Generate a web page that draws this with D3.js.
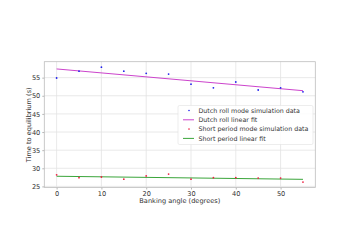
<!DOCTYPE html>
<html>
<head>
<meta charset="utf-8">
<script src="https://cdn.jsdelivr.net/npm/d3@7"></script>
<style>
  body { margin: 0; background: #fff; }
  text { font-family: "DejaVu Sans", sans-serif; fill: #333; }
</style>
</head>
<body>
<div id="chart"></div>
<script>
// banking angles (degrees)
var angles = [0, 5, 10, 15, 20, 25, 30, 35, 40, 45, 50, 55];
// time to equilibrium (s)
var dutchRoll = [54.9, 56.8, 57.9, 56.8, 56.2, 56.0, 53.2, 52.2, 53.8, 51.6, 52.2, 51.1];
var shortPeriod = [28.2, 27.4, 27.6, 27.0, 27.9, 28.4, 27.0, 27.4, 27.4, 27.3, 27.3, 26.2];
// linear fits, end points
var fitAngles = [0, 55];
var dutchFit = [57.4, 51.4];
var shortFit = [27.8, 26.95];
var xTicks = [0, 10, 20, 30, 40, 50];
var yTicks = [25, 30, 35, 40, 45, 50, 55];

var width = 351, height = 248;
var margin = { top: 61.7, right: 35.7, bottom: 60.5, left: 44.3 };

var svg = d3.select("#chart").append("svg")
  .attr("width", width)
  .attr("height", height);

var x = d3.scaleLinear().domain([-2.75, 57.75]).range([margin.left, width - margin.right]);
var y = d3.scaleLinear().domain([24.7, 59.4]).range([height - margin.bottom, margin.top]);

// grid
svg.append("g").selectAll("line").data(xTicks).enter().append("line")
  .attr("x1", function (d) { return x(d); }).attr("x2", function (d) { return x(d); })
  .attr("y1", margin.top).attr("y2", height - margin.bottom)
  .attr("stroke", "#e3e3e3").attr("stroke-width", 0.8);
svg.append("g").selectAll("line").data(yTicks).enter().append("line")
  .attr("y1", function (d) { return y(d); }).attr("y2", function (d) { return y(d); })
  .attr("x1", margin.left).attr("x2", width - margin.right)
  .attr("stroke", "#e3e3e3").attr("stroke-width", 0.8);

// axes
var xAxis = svg.append("g")
  .attr("transform", "translate(0," + (height - margin.bottom) + ")")
  .call(d3.axisBottom(x).tickValues(xTicks).tickSize(2).tickPadding(2));
var yAxis = svg.append("g")
  .attr("transform", "translate(" + margin.left + ",0)")
  .call(d3.axisLeft(y).tickValues(yTicks).tickSize(2).tickPadding(2));
[xAxis, yAxis].forEach(function (a) {
  a.select(".domain").remove();
  a.selectAll("line").attr("stroke", "#888").attr("stroke-width", 0.6);
  a.selectAll("text").attr("font-size", "6.6px").style("fill", "#333")
    .attr("font-family", "DejaVu Sans, sans-serif");
});

// frame
svg.append("rect")
  .attr("x", margin.left).attr("y", margin.top)
  .attr("width", width - margin.left - margin.right)
  .attr("height", height - margin.top - margin.bottom)
  .attr("fill", "none").attr("stroke", "#bdbdbd").attr("stroke-width", 0.8);

// axis labels
svg.append("text")
  .attr("x", x(27.5)).attr("y", 203)
  .attr("text-anchor", "middle").attr("font-size", "6.6px")
  .text("Banking angle (degrees)");
svg.append("text")
  .attr("transform", "translate(31," + y(42) + ") rotate(-90)")
  .attr("text-anchor", "middle").attr("font-size", "6.6px")
  .text("Time to equilibrium (s)");

// fit lines
var line = d3.line()
  .x(function (d) { return x(d[0]); })
  .y(function (d) { return y(d[1]); });
svg.append("path")
  .datum(d3.zip(fitAngles, dutchFit))
  .attr("d", line).attr("fill", "none")
  .attr("stroke", "#cc44cc").attr("stroke-width", 1);
svg.append("path")
  .datum(d3.zip(fitAngles, shortFit))
  .attr("d", line).attr("fill", "none")
  .attr("stroke", "#3aa53a").attr("stroke-width", 1);

// data points
svg.append("g").selectAll("circle").data(d3.zip(angles, dutchRoll)).enter().append("circle")
  .attr("cx", function (d) { return x(d[0]); })
  .attr("cy", function (d) { return y(d[1]); })
  .attr("r", 0.9).attr("fill", "#2222ee");
svg.append("g").selectAll("circle").data(d3.zip(angles, shortPeriod)).enter().append("circle")
  .attr("cx", function (d) { return x(d[0]); })
  .attr("cy", function (d) { return y(d[1]); })
  .attr("r", 0.9).attr("fill", "#ee2244");

// legend
var legendItems = [
  { label: "Dutch roll mode simulation data", kind: "dot", color: "#2222ee" },
  { label: "Dutch roll linear fit", kind: "line", color: "#cc44cc" },
  { label: "Short period mode simulation data", kind: "dot", color: "#ee2244" },
  { label: "Short period linear fit", kind: "line", color: "#3aa53a" }
];
var legend = svg.append("g").attr("transform", "translate(178,105.5)");
legend.append("rect")
  .attr("width", 135).attr("height", 39)
  .attr("rx", 1.5)
  .attr("fill", "#fff").attr("fill-opacity", 0.85)
  .attr("stroke", "#e0e0e0").attr("stroke-width", 0.6);
legendItems.forEach(function (item, i) {
  var cy = 5 + i * 9.3;
  if (item.kind === "dot") {
    legend.append("circle").attr("cx", 11).attr("cy", cy).attr("r", 0.8).attr("fill", item.color);
  } else {
    legend.append("line").attr("x1", 5).attr("x2", 16).attr("y1", cy).attr("y2", cy)
      .attr("stroke", item.color).attr("stroke-width", 1);
  }
  legend.append("text")
    .attr("x", 20.5).attr("y", cy + 2.2)
    .attr("font-size", "6.3px")
    .text(item.label);
});
</script>
</body>
</html>
